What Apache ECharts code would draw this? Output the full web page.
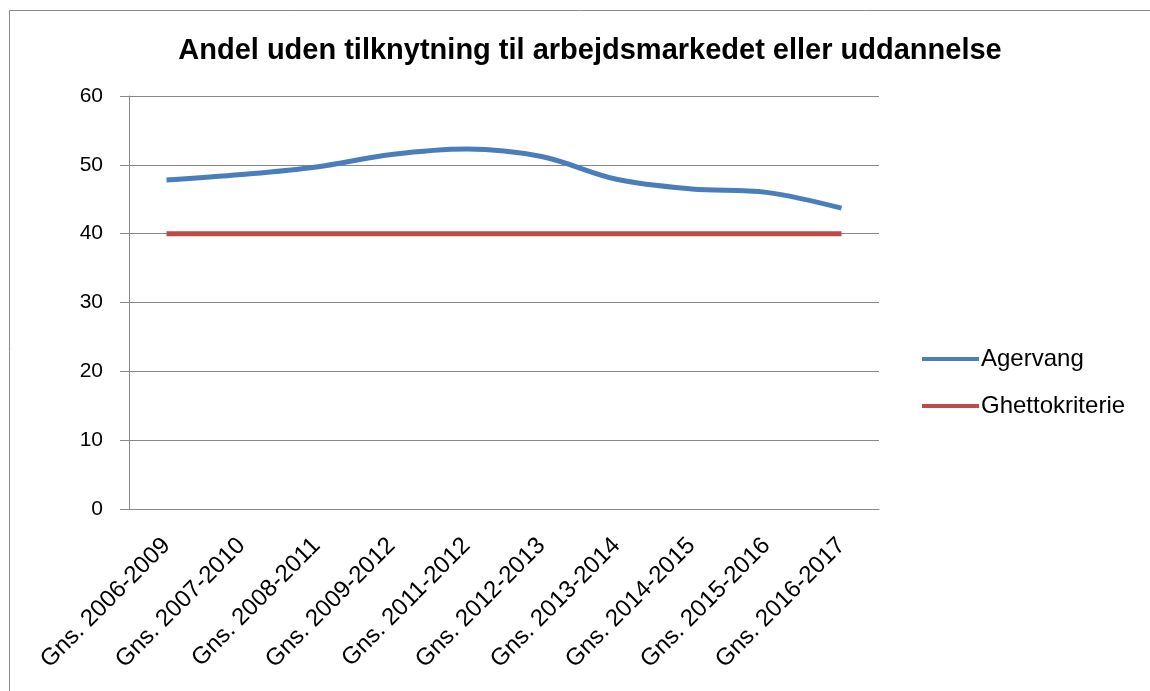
<!DOCTYPE html>
<html>
<head>
<meta charset="UTF-8">
<title>Andel uden tilknytning</title>
<script src="https://cdn.jsdelivr.net/npm/echarts@6/dist/echarts.min.js"></script>
<style>
  html, body { margin: 0; padding: 0; background: #fff; }
  #main { width: 1150px; height: 691px; }
</style>
</head>
<body>
<div id="main"></div>
<script>
// perioder (x-akse)
var periods = ['Gns. 2006-2009', 'Gns. 2007-2010', 'Gns. 2008-2011', 'Gns. 2009-2012', 'Gns. 2011-2012',
  'Gns. 2012-2013', 'Gns. 2013-2014', 'Gns. 2014-2015', 'Gns. 2015-2016', 'Gns. 2016-2017'];
// andel i procent
var agervang = [47.8, 48.6, 49.7, 51.5, 52.3, 51.2, 47.9, 46.5, 46.0, 43.7];
var ghettokriterie = [40, 40, 40, 40, 40, 40, 40, 40, 40, 40];

var font = 'Arial, "Liberation Sans", sans-serif';
var chart = echarts.init(document.getElementById('main'));
chart.setOption({
  animation: false,
  backgroundColor: '#fff',
  title: {
    text: 'Andel uden tilknytning til arbejdsmarkedet eller uddannelse',
    left: 585, top: 31, textAlign: 'center',
    textStyle: { fontFamily: font, fontSize: 29, fontWeight: 'bold', color: '#000' }
  },
  graphic: [{
    type: 'rect', silent: true,
    shape: { x: 9.5, y: 10.5, width: 1300, height: 900 },
    style: { fill: 'none', stroke: '#8a8a8a', lineWidth: 1 }
  }],
  legend: {
    orient: 'vertical', left: 917, top: 342, itemGap: 23,
    itemWidth: 57, itemHeight: 4, icon: 'rect',
    textStyle: { fontFamily: font, fontSize: 24, color: '#000', padding: [0, 0, 0, -3] },
    data: ['Agervang', 'Ghettokriterie']
  },
  grid: { left: 129, right: 271, top: 96, bottom: 182 },
  xAxis: {
    type: 'category', boundaryGap: true, data: periods,
    axisLine: { lineStyle: { color: '#888', width: 1 } },
    axisTick: { length: 8, lineStyle: { color: '#888' } },
    axisLabel: { rotate: 45, margin: 33, interval: 0, fontFamily: font, fontSize: 24, color: '#000' }
  },
  yAxis: {
    type: 'value', min: 0, max: 60, interval: 10,
    axisLine: { show: true, lineStyle: { color: '#888', width: 1 } },
    axisTick: { show: true, length: 9, lineStyle: { color: '#888' } },
    axisLabel: { margin: 26, fontFamily: font, fontSize: 21, color: '#000' },
    splitLine: { lineStyle: { color: '#888', width: 1 } }
  },
  series: [
    {
      name: 'Agervang', type: 'line', data: agervang, smooth: 0.35,
      symbol: 'none', color: '#4a7ebb', lineStyle: { width: 5, color: '#4a7ebb' }
    },
    {
      name: 'Ghettokriterie', type: 'line', data: ghettokriterie,
      symbol: 'none', color: '#be4b48', lineStyle: { width: 5, color: '#be4b48' }
    }
  ]
});
</script>
</body>
</html>
